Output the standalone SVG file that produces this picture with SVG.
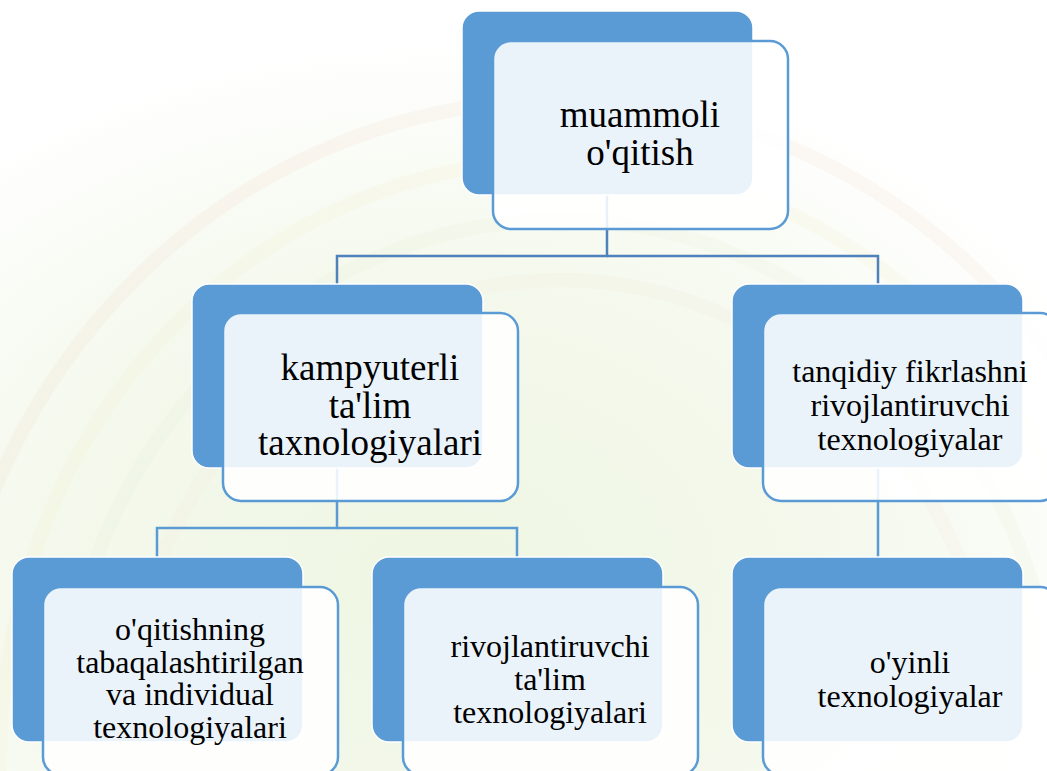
<svg xmlns="http://www.w3.org/2000/svg" width="1047" height="771" viewBox="0 0 1047 771">
  <defs>
    <radialGradient id="bgGlow" cx="0.42" cy="0.75" r="0.7">
      <stop offset="0" stop-color="#eef6e2"/>
      <stop offset="0.6" stop-color="#f5f9ee"/>
      <stop offset="1" stop-color="#ffffff"/>
    </radialGradient>
    <style>
      .back { fill: #5b9bd5; stroke: #ffffff; stroke-width: 1.5; }
      .front { fill: #ffffff; fill-opacity: 0.88; stroke: #5b9bd5; stroke-width: 2.5; }
      text { font-family: 'Liberation Serif', 'DejaVu Serif', serif; fill: #000000; text-anchor: middle; }
      .big { font-size: 37px; }
      .small { font-size: 32px; }
      .c1 { fill: none; stroke: #4f81bd; stroke-width: 2.5; }
      .c2 { fill: none; stroke: #5b9bd5; stroke-width: 2.5; }
      .arc { fill: none; stroke-width: 14; }
    </style>
  </defs>

  <g id="background">
    <rect x="0" y="0" width="1047" height="771" fill="url(#bgGlow)"/>
    <ellipse cx="560" cy="760" rx="620" ry="660" class="arc" stroke="#f6d9c8" stroke-opacity="0.18"/>
    <ellipse cx="560" cy="760" rx="560" ry="600" class="arc" stroke="#f4efc8" stroke-opacity="0.18"/>
    <ellipse cx="560" cy="760" rx="500" ry="540" class="arc" stroke="#e6efd8" stroke-opacity="0.2"/>
    <ellipse cx="560" cy="760" rx="440" ry="480" class="arc" stroke="#f3e6d6" stroke-opacity="0.15"/>
  </g>

  <g id="connectors">
    <polyline class="c1" points="607,195 607,256 337,256 337,284"/>
    <polyline class="c1" points="607,256 878,256 878,284"/>
    <polyline class="c2" points="337,468 337,528 157,528 157,557"/>
    <polyline class="c2" points="337,528 517,528 517,557"/>
    <polyline class="c2" points="878,468 878,557"/>
  </g>

  <g id="node-muammoli">
    <rect class="back" x="462" y="11" width="291" height="184" rx="17"/>
    <rect class="front" x="493" y="41" width="295" height="188" rx="18"/>
    <text class="big" x="640" y="127">muammoli</text>
    <text class="big" x="640" y="165">o'qitish</text>
  </g>

  <g id="node-kampyuterli">
    <rect class="back" x="192" y="284" width="291" height="184" rx="17"/>
    <rect class="front" x="223" y="313" width="295" height="188" rx="18"/>
    <text class="big" x="370" y="380">kampyuterli</text>
    <text class="big" x="370" y="418">ta'lim</text>
    <text class="big" x="370" y="455">taxnologiyalari</text>
  </g>

  <g id="node-tanqidiy">
    <rect class="back" x="732" y="284" width="291" height="184" rx="17"/>
    <rect class="front" x="763" y="313" width="295" height="188" rx="18"/>
    <text class="small" x="910" y="382">tanqidiy fikrlashni</text>
    <text class="small" x="910" y="416">rivojlantiruvchi</text>
    <text class="small" x="910" y="450">texnologiyalar</text>
  </g>

  <g id="node-oqitishning">
    <rect class="back" x="12" y="557" width="291" height="185" rx="17"/>
    <rect class="front" x="43" y="587" width="295" height="188" rx="18"/>
    <text class="small" x="190" y="640">o'qitishning</text>
    <text class="small" x="190" y="673">tabaqalashtirilgan</text>
    <text class="small" x="190" y="705">va individual</text>
    <text class="small" x="190" y="738">texnologiyalari</text>
  </g>

  <g id="node-rivojlantiruvchi">
    <rect class="back" x="372" y="557" width="291" height="185" rx="17"/>
    <rect class="front" x="403" y="587" width="295" height="188" rx="18"/>
    <text class="small" x="550" y="657">rivojlantiruvchi</text>
    <text class="small" x="550" y="690">ta'lim</text>
    <text class="small" x="550" y="723">texnologiyalari</text>
  </g>

  <g id="node-oyinli">
    <rect class="back" x="732" y="557" width="291" height="185" rx="17"/>
    <rect class="front" x="763" y="587" width="295" height="188" rx="18"/>
    <text class="small" x="910" y="673">o'yinli</text>
    <text class="small" x="910" y="707">texnologiyalar</text>
  </g>
</svg>
